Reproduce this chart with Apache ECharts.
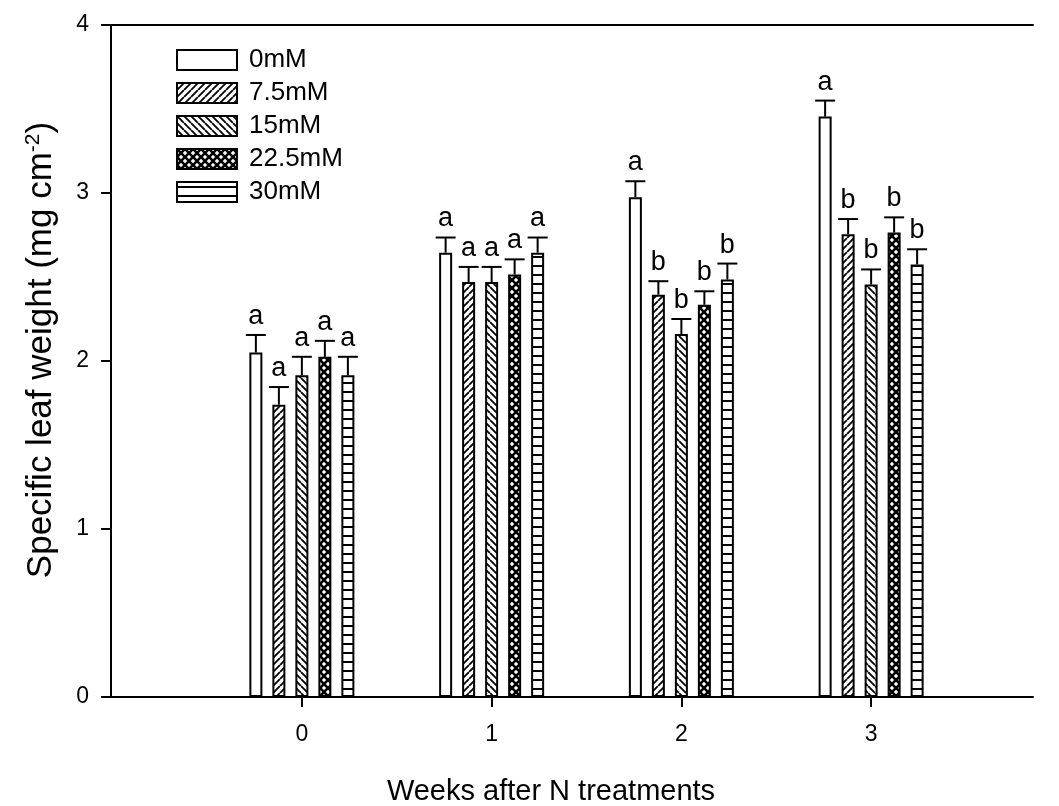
<!DOCTYPE html>
<html>
<head>
<meta charset="utf-8">
<script src="https://cdn.jsdelivr.net/npm/echarts@6/dist/echarts.min.js"></script>
<style>html,body{margin:0;padding:0;background:#fff;}#c{width:1059px;height:806px;}</style>
</head>
<body>
<div id="c"></div>
<script>
// ---- data ----
const weeks = ['0', '1', '2', '3'];
const treatments = ['0mM', '7.5mM', '15mM', '22.5mM', '30mM'];
const slw_0mM   = [2.05, 2.645, 2.975, 3.455];
const slw_7_5mM = [1.74, 2.47, 2.395, 2.755];
const slw_15mM  = [1.915, 2.47, 2.16, 2.455];
const slw_22_5mM= [2.025, 2.515, 2.335, 2.765];
const slw_30mM  = [1.915, 2.645, 2.485, 2.575];
const err_0mM   = [0.105, 0.09, 0.095, 0.095];
const err_7_5mM = [0.105, 0.09, 0.08, 0.09];
const err_15mM  = [0.11, 0.09, 0.09, 0.09];
const err_22_5mM= [0.095, 0.09, 0.08, 0.09];
const err_30mM  = [0.11, 0.09, 0.095, 0.09];
const let_0mM   = ['a', 'a', 'a', 'a'];
const let_7_5mM = ['a', 'a', 'b', 'b'];
const let_15mM  = ['a', 'a', 'b', 'b'];
const let_22_5mM= ['a', 'a', 'b', 'b'];
const let_30mM  = ['a', 'a', 'b', 'b'];
const yTicks = [0, 1, 2, 3, 4];

const values = [slw_0mM, slw_7_5mM, slw_15mM, slw_22_5mM, slw_30mM];
const errors = [err_0mM, err_7_5mM, err_15mM, err_22_5mM, err_30mM];
const letters = [let_0mM, let_7_5mM, let_15mM, let_22_5mM, let_30mM];

// ---- styles ----
const FONT = 'Liberation Sans, Arial, sans-serif';
const BAR_W = 13;
const PITCH = 23;
const CAP = 10;

function pattern(kind) {
  if (kind === 'white') return '#fff';
  const c = document.createElement('canvas');
  let w = 8, h = 8;
  if (kind === 'slash' || kind === 'back') { w = 7; h = 7; }
  if (kind === 'cross') { w = 8; h = 8; }
  if (kind === 'hline') { w = 4; h = 9; }
  c.width = w; c.height = h;
  const g = c.getContext('2d');
  g.fillStyle = '#fff'; g.fillRect(0, 0, w, h);
  g.strokeStyle = '#000';
  if (kind === 'slash' || kind === 'cross') {
    g.lineWidth = kind === 'cross' ? 2.6 : 1.8;
    g.beginPath();
    for (let k = -1; k <= 1; k++) { g.moveTo(k * w, h); g.lineTo(k * w + w, 0); }
    g.stroke();
  }
  if (kind === 'back' || kind === 'cross') {
    g.lineWidth = kind === 'cross' ? 2.6 : 1.8;
    g.beginPath();
    for (let k = -1; k <= 1; k++) { g.moveTo(k * w, 0); g.lineTo(k * w + w, h); }
    g.stroke();
  }
  if (kind === 'hline') {
    g.fillStyle = '#000'; g.fillRect(0, 4, w, 2);
  }
  return { image: c, repeat: 'repeat' };
}
const fills = [pattern('white'), pattern('slash'), pattern('back'), pattern('cross'), pattern('hline')];

const series = [];
treatments.forEach((name, i) => {
  series.push({
    name: name, type: 'bar', xAxisIndex: 1, yAxisIndex: 1,
    barWidth: BAR_W, barGap: ((PITCH - BAR_W) / BAR_W * 100) + '%',
    data: values[i],
    itemStyle: { color: fills[i], borderColor: '#000', borderWidth: 2 },
    emphasis: { disabled: true }, z: 2
  });
});
treatments.forEach((name, i) => {
  series.push({
    type: 'custom', xAxisIndex: 1, yAxisIndex: 1, z: 3, silent: true,
    data: weeks.map((w, j) => [j, values[i][j], errors[i][j]]),
    renderItem: function (params, api) {
      const j = api.value(0), v = api.value(1), e = api.value(2);
      const b = api.coord([j, v]);
      const t = api.coord([j, v + e]);
      const x = b[0] + (i - 2) * PITCH;
      return {
        type: 'group', children: [
          { type: 'line', shape: { x1: x, y1: b[1], x2: x, y2: t[1] }, style: { stroke: '#000', lineWidth: 2 } },
          { type: 'line', shape: { x1: x - CAP, y1: t[1], x2: x + CAP, y2: t[1] }, style: { stroke: '#000', lineWidth: 2 } },
          { type: 'text', style: { text: letters[i][params.dataIndex], x: x, y: t[1] - 5, textAlign: 'center', textVerticalAlign: 'bottom', font: '27px ' + FONT, fill: '#000' } }
        ]
      };
    }
  });
});

const chart = echarts.init(document.getElementById('c'), null, { renderer: 'canvas' });
chart.setOption({
  animation: false,
  backgroundColor: '#fff',
  grid: [
    { left: 111, right: 26, top: 25, bottom: 109, containLabel: false, outerBoundsMode: 'none' },
    { left: 207, right: 93, top: 25, bottom: 109, containLabel: false, outerBoundsMode: 'none' }
  ],
  legend: {
    data: treatments, orient: 'vertical', left: 176, top: 47, padding: 0,
    icon: 'rect', itemWidth: 60, itemHeight: 20, itemGap: 7,
    itemStyle: { borderColor: '#000', borderWidth: 2 },
    textStyle: { fontFamily: FONT, fontSize: 26, color: '#000', padding: [0, 0, 0, 7] },
    selectedMode: false
  },
  xAxis: [
    { type: 'value', gridIndex: 0, min: 0, max: 1, position: 'bottom',
      axisLine: { show: true, lineStyle: { color: '#000', width: 2 } },
      axisTick: { show: false }, axisLabel: { show: false }, splitLine: { show: false },
      name: 'Weeks after N treatments', nameLocation: 'middle', nameGap: 80,
      nameTextStyle: { fontFamily: FONT, fontSize: 29, color: '#000', padding: [0, 42, 0, 0] } },
    { type: 'category', gridIndex: 1, data: weeks, position: 'bottom',
      axisLine: { show: false },
      axisTick: { show: true, alignWithLabel: true, length: 10, lineStyle: { color: '#000', width: 2 } },
      axisLabel: { fontFamily: FONT, fontSize: 23, color: '#000', margin: 26 },
      splitLine: { show: false } },
    { type: 'value', gridIndex: 0, min: 0, max: 1, position: 'top',
      axisLine: { show: true, onZero: false, lineStyle: { color: '#000', width: 2 } },
      axisTick: { show: false }, axisLabel: { show: false }, splitLine: { show: false } }
  ],
  yAxis: [
    { type: 'value', gridIndex: 0, min: yTicks[0], max: yTicks[yTicks.length - 1], interval: 1,
      axisLine: { show: true, lineStyle: { color: '#000', width: 2 } },
      axisTick: { show: true, inside: false, length: 10, lineStyle: { color: '#000', width: 2 } },
      axisLabel: { fontFamily: FONT, fontSize: 23, color: '#000', margin: 22 },
      splitLine: { show: false },
      name: '{t|Specific leaf weight (mg cm}{s|-2}{t|)}', nameLocation: 'middle', nameGap: 51,
      nameTextStyle: { padding: [0, 0, 0, 22], rich: { t: { fontFamily: FONT, fontSize: 35, color: '#000' }, s: { fontFamily: FONT, fontSize: 21, color: '#000', verticalAlign: 'top', padding: [0, 0, 16, 0] } } } },
    { type: 'value', gridIndex: 1, min: 0, max: 4, show: false }
  ],
  series: series
});
</script>
</body>
</html>
